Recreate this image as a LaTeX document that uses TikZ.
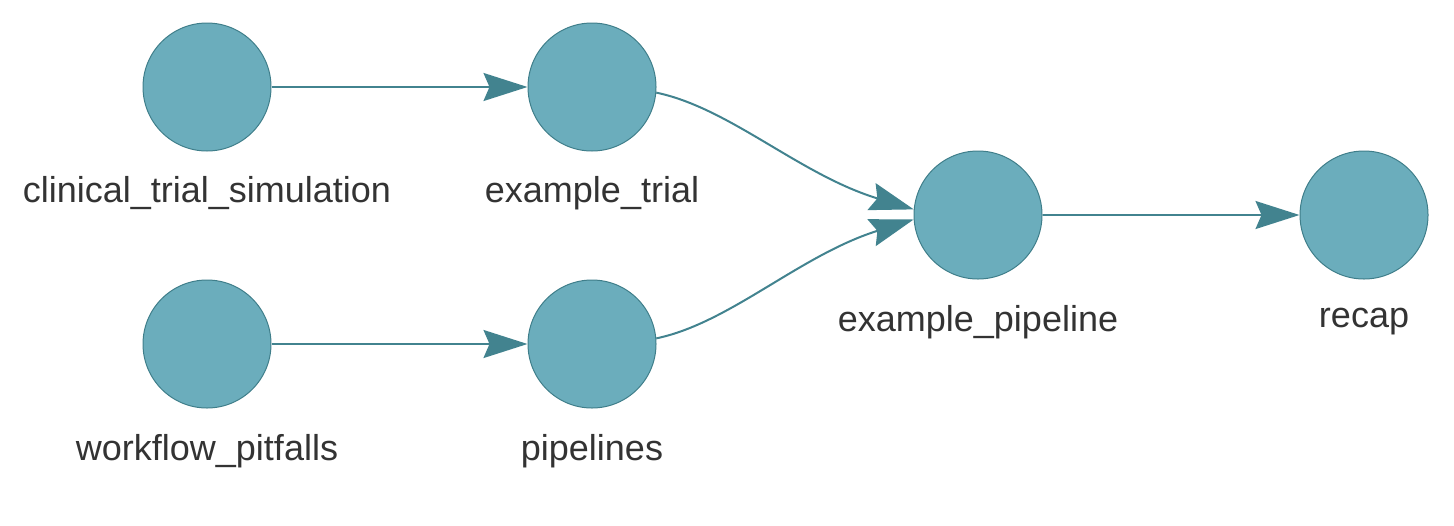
\documentclass[tikz,border=0pt]{standalone}
\usepackage{fontspec}
\setmainfont{Liberation Sans}
\usetikzlibrary{arrows.meta}
\definecolor{nodefill}{HTML}{6BADBC}
\definecolor{nodeline}{HTML}{3F7E8A}
\definecolor{edgecol}{HTML}{42838F}
\definecolor{txt}{HTML}{333333}
\begin{document}
\begin{tikzpicture}[x=0.5pt,y=-0.5pt,
  target/.style={circle,fill=nodefill,draw=nodeline,line width=0.5pt,minimum size=64pt,inner sep=0pt},
  lbl/.style={text=txt,font=\fontsize{18}{21}\selectfont,inner sep=0pt},
  edge/.style={draw=edgecol,line width=1pt,-{Stealth[length=22pt,width=14pt,inset=3pt]}}]
\useasboundingbox (0,0) rectangle (1454,525);
\node[target] (cts) at (207,87) {};
\node[target] (et) at (592,87) {};
\node[target] (wp) at (207,344) {};
\node[target] (pl) at (592,344) {};
\node[target] (ep) at (978,215) {};
\node[target] (rc) at (1364,215) {};
\node[lbl] (ctsl) at (207,193) {clinical\_trial\_simulation};
\node[lbl] (etl) at (592,193) {example\_trial};
\node[lbl] (wpl) at (207,451) {workflow\_pitfalls};
\node[lbl] (pll) at (592,451) {pipelines};
\node[lbl] (epl) at (978,322) {example\_pipeline};
\node[lbl] (rcl) at (1364,322) {recap};
\draw[edge] (cts) -- (et);
\draw[edge] (wp) -- (pl);
\draw[edge] (ep) -- (rc);
\draw[edge] (et.-5) .. controls (730,108) and (800,175) .. (ep.175.5);
\draw[edge] (pl.5) .. controls (730,323) and (800,255) .. (ep.184.5);
\end{tikzpicture}
\end{document}
